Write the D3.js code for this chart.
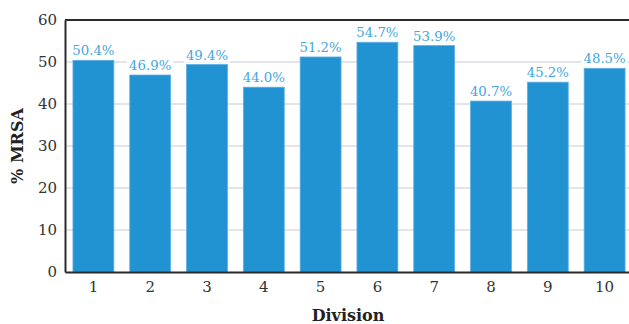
<!DOCTYPE html>
<html><head><meta charset="utf-8">
<script src="https://cdn.jsdelivr.net/npm/d3@7"></script>
<style>body{margin:0;background:#fff}svg{display:block}</style>
</head><body><svg id="c" width="629" height="324"></svg>
<script>
const divisions = ["1","2","3","4","5","6","7","8","9","10"];
const mrsa = [50.4, 46.9, 49.4, 44.0, 51.2, 54.7, 53.9, 40.7, 45.2, 48.5];
const yTicks = [0,10,20,30,40,50,60];

const svg = d3.select("#c");
const font = "DejaVu Serif";
const m = {l:65, r:-4, t:20, b:52};
const W = 629, H = 324;
const x = d3.scaleBand().domain(divisions).range([m.l, W - m.r]).paddingInner(0.28).paddingOuter(0.14);
const y = d3.scaleLinear().domain([0,60]).range([H - m.b, m.t]);

// gridlines
svg.append("g").selectAll("line").data(yTicks.filter(d=>d>0&&d<60)).join("line")
  .attr("x1", m.l).attr("x2", W).attr("y1", d=>y(d)).attr("y2", d=>y(d))
  .attr("stroke", "#c9cbd6").attr("stroke-width", 1.2);

// bars
svg.append("g").selectAll("rect").data(mrsa).join("rect")
  .attr("x", (d,i)=>x(divisions[i])).attr("width", x.bandwidth())
  .attr("y", d=>y(d)).attr("height", d=>y(0)-y(d))
  .attr("fill", "#2192d2").attr("stroke", "#5fb0e2").attr("stroke-width", 0.8);

// labels with white background
const lg = svg.append("g");
mrsa.forEach((d,i)=>{
  const cx = x(divisions[i]) + x.bandwidth()/2;
  const t = lg.append("text").attr("x", cx).attr("y", y(d)-5)
    .attr("text-anchor","middle").attr("font-family", font).attr("font-size", 13.3)
    .attr("fill", "#45a6e0").text(d.toFixed(1)+"%");
  const bb = t.node().getBBox();
  lg.insert("rect", "text").attr("x", bb.x-2).attr("y", bb.y).attr("width", bb.width+4).attr("height", bb.height)
    .attr("fill", "#fff");
});

// top border
svg.append("line").attr("x1", m.l).attr("x2", W).attr("y1", y(60)).attr("y2", y(60))
  .attr("stroke", "#2a2a2a").attr("stroke-width", 2);

// y axis
const ya = svg.append("g").attr("transform", `translate(${m.l},0)`)
  .call(d3.axisLeft(y).tickValues(yTicks).tickSize(0).tickPadding(8));
ya.select(".domain").attr("stroke", "#2a2a2a").attr("stroke-width", 2);
ya.selectAll("text").attr("font-family", font).attr("font-size", 15).attr("fill", "#333");

// x axis
const xa = svg.append("g").attr("transform", `translate(0,${y(0)})`)
  .call(d3.axisBottom(x).tickSize(0).tickPadding(9));
xa.select(".domain").attr("stroke", "#2a2a2a").attr("stroke-width", 2);
xa.selectAll("text").attr("font-family", font).attr("font-size", 15).attr("fill", "#333");

// axis titles
svg.append("text").attr("x", (m.l + W)/2 + 1).attr("y", 321).attr("text-anchor","middle")
  .attr("font-family", font).attr("font-weight","bold").attr("font-size", 16).attr("fill","#222").text("Division");
svg.append("text").attr("transform", `translate(23,${(y(0)+y(60))/2}) rotate(-90)`).attr("text-anchor","middle")
  .attr("font-family", font).attr("font-weight","bold").attr("font-size", 16).attr("fill","#222").text("% MRSA");
</script></body></html>
